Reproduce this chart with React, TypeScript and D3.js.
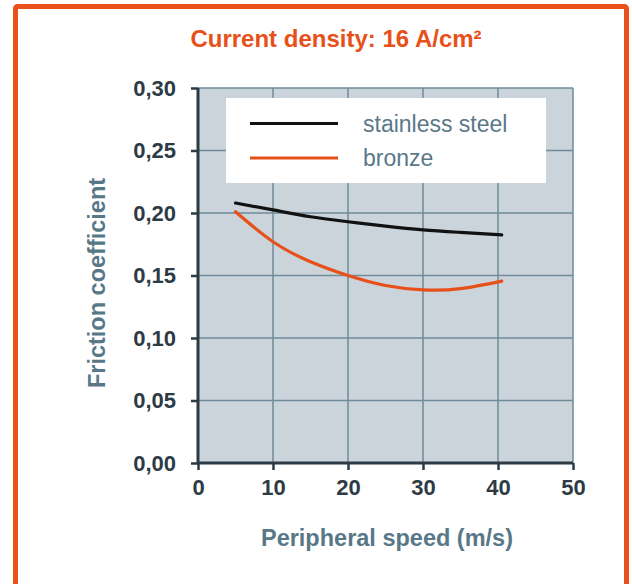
import React, { useEffect, useRef } from "react";
import * as d3 from "d3";

// Friction coefficient vs peripheral speed, current density 16 A/cm²
const speeds = [5, 10, 15, 20, 25, 30, 35, 40.5];
const stainlessSteel = [0.208, 0.2025, 0.197, 0.193, 0.1895, 0.1865, 0.1845, 0.1825];
const bronze = [0.201, 0.177, 0.161, 0.15, 0.142, 0.1385, 0.1395, 0.1455];

const xTicks = [0, 10, 20, 30, 40, 50];
const yTicks = [0, 0.05, 0.1, 0.15, 0.2, 0.25, 0.3];

const seriesNames = ["stainless steel", "bronze"];
const seriesColors = ["#111111", "#e8501a"];

const W = 632;
const H = 584;

const App: React.FC = () => {
  const svgRef = useRef<SVGSVGElement>(null);

  useEffect(() => {
    if (!svgRef.current) return;
    const root = d3.select(svgRef.current);
    root.selectAll("*").remove();

    const font = "'Liberation Sans', Arial, Helvetica, sans-serif";
    const margin = { top: 88, right: 59, bottom: 121, left: 198 };
    const width = W - margin.left - margin.right;
    const height = H - margin.top - margin.bottom;

    // Outer frame
    root
      .append("rect")
      .attr("x", 15.5)
      .attr("y", 6.5)
      .attr("width", 611)
      .attr("height", 620)
      .attr("rx", 2)
      .style("fill", "#ffffff")
      .style("stroke", "#e8521a")
      .style("stroke-width", 5);

    // Title
    root
      .append("text")
      .attr("x", 336)
      .attr("y", 47)
      .attr("text-anchor", "middle")
      .style("font-family", font)
      .style("font-weight", "bold")
      .style("font-size", "24px")
      .style("fill", "#e8501a")
      .text("Current density: 16 A/cm²");

    const svg = root.append("g").attr("transform", `translate(${margin.left},${margin.top})`);

    const x = d3.scaleLinear().domain([0, 50]).range([0, width]);
    const y = d3.scaleLinear().domain([0, 0.3]).range([height, 0]);

    // Plot background
    svg
      .append("rect")
      .attr("width", width)
      .attr("height", height)
      .style("fill", "#cbd4da");

    // Grid
    svg
      .selectAll(".hgrid")
      .data(yTicks.slice(1))
      .enter()
      .append("line")
      .attr("x1", 0)
      .attr("x2", width)
      .attr("y1", (d) => y(d))
      .attr("y2", (d) => y(d))
      .style("stroke", "#6f8b99")
      .style("stroke-width", 1.5);

    svg
      .selectAll(".vgrid")
      .data(xTicks.slice(1))
      .enter()
      .append("line")
      .attr("x1", (d) => x(d))
      .attr("x2", (d) => x(d))
      .attr("y1", 0)
      .attr("y2", height)
      .style("stroke", "#6f8b99")
      .style("stroke-width", 1.5);

    // Legend box
    const legend = svg.append("g").attr("transform", `translate(${226 - margin.left},${98 - margin.top})`);
    legend
      .append("rect")
      .attr("width", 320)
      .attr("height", 85)
      .style("fill", "#ffffff");
    seriesNames.forEach((name, i) => {
      const ly = 25.5 + i * 34.5;
      legend
        .append("line")
        .attr("x1", 24)
        .attr("x2", 112)
        .attr("y1", ly)
        .attr("y2", ly)
        .style("stroke", seriesColors[i])
        .style("stroke-width", 3);
      legend
        .append("text")
        .attr("x", 137)
        .attr("y", ly + 8)
        .style("font-family", font)
        .style("font-size", "23px")
        .style("fill", "#5a7888")
        .text(name);
    });

    // Lines
    const line = d3
      .line<number>()
      .x((_, i) => x(speeds[i]))
      .y((d) => y(d))
      .curve(d3.curveNatural);

    [stainlessSteel, bronze].forEach((values, i) => {
      svg
        .append("path")
        .datum(values)
        .attr("d", line)
        .style("fill", "none")
        .style("stroke", seriesColors[i])
        .style("stroke-width", 3.2)
        .style("stroke-linecap", "round");
    });

    // Axes
    const xAxis = d3
      .axisBottom(x)
      .tickValues(xTicks)
      .tickSize(7)
      .tickPadding(9)
      .tickFormat((d) => String(d));
    const yAxis = d3
      .axisLeft(y)
      .tickValues(yTicks)
      .tickSize(7)
      .tickPadding(15)
      .tickFormat((d) => (d as number).toFixed(2).replace(".", ","));

    const gx = svg.append("g").attr("transform", `translate(0,${height})`).call(xAxis);
    const gy = svg.append("g").call(yAxis);

    [gx, gy].forEach((g) => {
      g.select(".domain").style("stroke", "#2b3a44").style("stroke-width", 3);
      g.selectAll(".tick line").style("stroke", "#2b3a44").style("stroke-width", 2.5);
      g.selectAll(".tick text")
        .style("font-family", font)
        .style("font-weight", "bold")
        .style("font-size", "22px")
        .style("fill", "#2e3b45");
    });
    gx.select(".domain").attr("d", `M0,0H${width}`);
    gy.select(".domain").attr("d", `M0,0V${height}`);

    // Axis titles
    root
      .append("text")
      .attr("x", 387)
      .attr("y", 546)
      .attr("text-anchor", "middle")
      .style("font-family", font)
      .style("font-weight", "bold")
      .style("font-size", "23.5px")
      .style("fill", "#587888")
      .text("Peripheral speed (m/s)");

    root
      .append("text")
      .attr("transform", "translate(105,283) rotate(-90)")
      .attr("text-anchor", "middle")
      .style("font-family", font)
      .style("font-weight", "bold")
      .style("font-size", "23.5px")
      .style("fill", "#587888")
      .text("Friction coefficient");
  }, []);

  return (
    <svg
      ref={svgRef}
      width={W}
      height={H}
      style={{ position: "absolute", left: 0, top: 0, display: "block" }}
    />
  );
};

export default App;
